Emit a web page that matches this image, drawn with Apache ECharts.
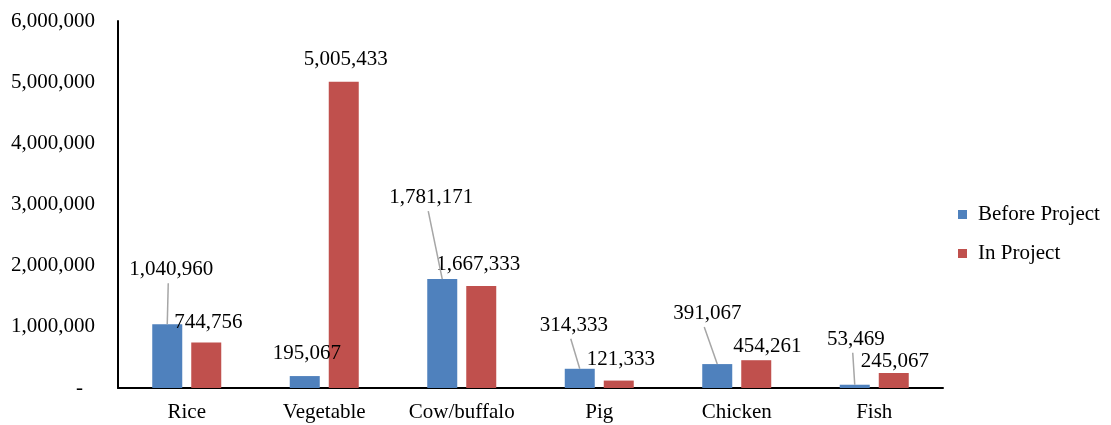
<!DOCTYPE html>
<html>
<head>
<meta charset="utf-8">
<script src="https://cdn.jsdelivr.net/npm/echarts@6/dist/echarts.min.js"></script>
<style>
  html, body { margin: 0; padding: 0; background: #fff; }
  #chart { width: 1111px; height: 425px; }
</style>
</head>
<body>
<div id="chart"></div>
<script>
// Categories and values
const categories = ['Rice', 'Vegetable', 'Cow/buffalo', 'Pig', 'Chicken', 'Fish'];
const beforeProject = [1040960, 195067, 1781171, 314333, 391067, 53469];
const inProject = [744756, 5005433, 1667333, 121333, 454261, 245067];
const seriesNames = ['Before Project', 'In Project'];
const yTicks = [0, 1000000, 2000000, 3000000, 4000000, 5000000, 6000000];

// Label nudges (dx, dy in px) and which labels get a leader line
const beforeNudge = [[4, -41], [2, -9], [-11, -68], [-6, -30], [-10, -37], [1, -32]];
const inNudge = [[2, -6], [2, -9], [-3, -8], [2, -8], [11, 0], [1, 2]];
const beforeLeader = [true, false, true, true, true, true];

const FONT = '"Liberation Serif", "Times New Roman", serif';
const FS = 21;
const BAR_W = 30;
const BAR_GAP = 0.3;          // gap between the two bars, fraction of bar width
const LABEL_DIST = 3;
const fmt = v => v.toLocaleString('en-US');

// Centre of the "Before" bar relative to its category centre
const beforeShift = -(BAR_W * (1 + BAR_GAP)) / 2;

// Leader line rows: [categoryIndex, value, dx, dy]
const leaderRows = beforeProject
  .map((v, i) => [i, v, beforeNudge[i][0], beforeNudge[i][1]])
  .filter((_, i) => beforeLeader[i]);

const chart = echarts.init(document.getElementById('chart'), null, { renderer: 'canvas' });

const labelBase = {
  show: true,
  position: 'top',
  distance: LABEL_DIST,
  fontFamily: FONT,
  fontSize: FS,
  color: '#000',
  formatter: p => fmt(p.value)
};

const nudge = table => p => ({ dx: table[p.dataIndex][0], dy: table[p.dataIndex][1] });

chart.setOption({
  animation: false,
  textStyle: { fontFamily: FONT },
  grid: { left: 118, right: 168, top: 21, bottom: 37, containLabel: false },
  legend: {
    orient: 'vertical',
    left: 958,
    top: 204,
    padding: 0,
    itemWidth: 9,
    itemHeight: 9,
    itemGap: 18,
    icon: 'rect',
    textStyle: { fontFamily: FONT, fontSize: FS, color: '#000', padding: [0, 0, 0, 6] },
    data: seriesNames
  },
  xAxis: {
    type: 'category',
    data: categories,
    axisLine: { lineStyle: { color: '#000', width: 2 } },
    axisTick: { show: false },
    axisLabel: { fontFamily: FONT, fontSize: FS, color: '#000', margin: 14 }
  },
  yAxis: {
    type: 'value',
    min: yTicks[0],
    max: yTicks[yTicks.length - 1],
    interval: yTicks[1] - yTicks[0],
    splitLine: { show: false },
    axisTick: { show: false },
    axisLine: { show: true, lineStyle: { color: '#000', width: 2 } },
    axisLabel: {
      fontFamily: FONT,
      fontSize: FS,
      color: '#000',
      margin: 23,
      formatter: v => v === 0 ? '{d|-}' : fmt(v),
      rich: { d: { fontFamily: FONT, fontSize: FS, color: '#000', padding: [0, 12, 0, 0] } }
    }
  },
  series: [
    {
      name: seriesNames[0],
      type: 'bar',
      data: beforeProject,
      barWidth: BAR_W,
      barGap: (BAR_GAP * 100) + '%',
      itemStyle: { color: '#4F81BD' },
      label: labelBase,
      labelLayout: nudge(beforeNudge)
    },
    {
      name: seriesNames[1],
      type: 'bar',
      data: inProject,
      barWidth: BAR_W,
      barGap: (BAR_GAP * 100) + '%',
      itemStyle: { color: '#C0504D' },
      label: labelBase,
      labelLayout: nudge(inNudge)
    },
    {
      // grey leader lines from a moved label down to the top of its bar
      name: 'leaders',
      type: 'custom',
      silent: true,
      z: 3,
      data: leaderRows,
      encode: { x: 0, y: 1 },
      renderItem: (params, api) => {
        const top = api.coord([api.value(0), api.value(1)]);
        const bx = top[0] + beforeShift;
        const by = top[1];
        const dx = api.value(2);
        const dy = api.value(3);
        return {
          type: 'line',
          shape: { x1: bx + dx - 3, y1: by - LABEL_DIST + dy + 3, x2: bx, y2: by },
          style: { stroke: '#A6A6A6', lineWidth: 1.5 }
        };
      }
    }
  ]
});
</script>
</body>
</html>
